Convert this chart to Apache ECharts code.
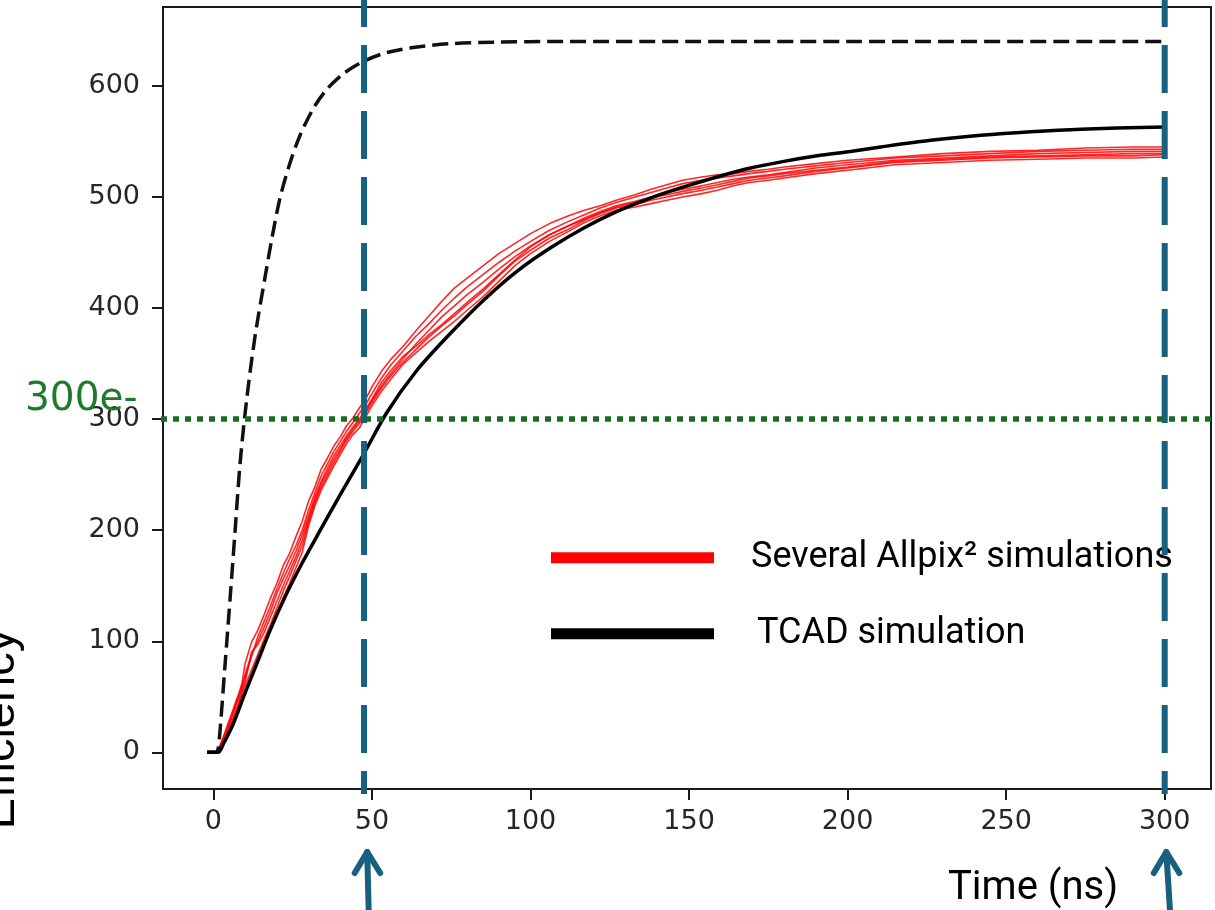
<!DOCTYPE html>
<html>
<head>
<meta charset="utf-8">
<script src="https://cdn.jsdelivr.net/npm/echarts@6/dist/echarts.min.js"></script>
<style>
  html, body { margin: 0; padding: 0; background: #ffffff; }
  #chart { width: 1215px; height: 910px; }
</style>
</head>
<body>
<div id="chart"></div>
<script>
// ---- axis ticks ----
const xTicks = [0, 50, 100, 150, 200, 250, 300];
const yTicks = [0, 100, 200, 300, 400, 500, 600];

// ---- Allpix² runs: collected charge (e-) versus time (ns) ----
const allpixTime = [0,1,2,3,4,5,6,7,8,9,10,12,14,16,18,20,22,24,26,28,30,32,34,36,38,40,42,44,46,48,50,53,56,60,64,68,72,76,80,85,90,95,100,106,112,117,122,127,133,138,143,148,154,159,164,169,175,180,190,200,215,230,245,260,275,290,300];
const allpixRun1 = [0,1,6,13,21,29,37,45,53,62,80,99,110,124,139,152,168,179,194,208,226,239,255,265,276,284,294,301,310,318,329,343,354,366,380,393,406,418,427,438,449,458,467,476,483,488,492,497,502,507,511,515,518,520,521,523,525,527,530,533,536,539,541,542,544,545,545];
const allpixRun2 = [0,0,4,10,17,25,33,41,49,58,68,86,104,118,132,147,161,174,186,200,218,234,249,260,271,280,289,297,305,313,323,337,349,362,375,386,398,409,419,430,441,451,460,470,478,484,490,495,500,504,508,512,515,517,519,521,523,525,528,531,535,537,539,541,542,543,543];
const allpixRun3 = [0,1,5,12,19,27,34,43,51,60,70,88,100,113,127,143,156,168,181,196,213,230,244,256,267,276,285,293,300,309,318,333,344,357,366,376,385,395,405,417,430,443,455,466,474,481,487,492,496,500,504,507,510,513,516,518,520,522,526,529,533,535,537,539,540,541,541];
const allpixRun4 = [0,0,3,8,14,21,28,35,43,52,60,74,88,102,115,130,145,158,172,186,207,225,239,250,261,271,281,289,296,305,315,328,339,352,363,374,384,393,403,415,429,442,452,463,471,479,485,490,493,497,500,503,506,509,512,515,517,519,523,526,531,533,535,536,537,537,538];
const allpixRun5 = [0,0,3,9,15,22,29,37,45,54,63,90,97,108,122,136,150,163,176,191,210,227,242,253,264,273,283,291,298,307,317,330,341,355,368,380,392,402,412,423,435,446,456,466,474,480,486,491,495,499,502,505,508,511,514,517,519,521,524,527,532,534,536,537,538,539,539];
const allpixRun6 = [0,0,2,6,12,18,25,32,40,48,55,68,82,96,110,125,139,152,166,180,204,222,236,247,258,268,278,286,292,302,312,325,336,350,360,370,379,388,398,410,424,438,449,460,469,477,483,488,491,494,497,500,503,506,510,513,515,517,521,524,529,531,533,534,535,535,536];
const allpixRuns = [allpixRun1, allpixRun2, allpixRun3, allpixRun4, allpixRun5, allpixRun6];

// ---- TCAD simulation ----
const tcadTime   = [-2,1.5,3.2,6.3,9.5,13.7,17.9,22.6,27.9,33.7,40,47.3,54.7,64.2,74.7,85.2,95.7,106.2,116.8,127.3,137.8,148.3,158.8,169.4,179.9,190.4,200.9,210.4,226.2,242,257.7,273.5,300];
const tcadCharge = [0,0,8,26,50,80,110,140,170,200,232,268,306,344,377,407,433,454,472,487,499,509,518,526,532,537,541,545,551,555.5,558.7,561,563];

// ---- fast (dashed) curve ----
const fastTime   = [-2,1,1.5,2.1,3.7,5.3,6.85,8.4,10.5,13.2,16.3,18.4,21,24.2,27.4,31.6,35.8,41,47.3,54.7,64.2,74.7,88.4,110,150,200,300];
const fastCharge = [0,0,4,20,80,140,200,260,318,376,428,462,499,531,556,580,597,611,622,630,635,638,639.3,640,640,640,640];

// ---- annotations ----
const markerTimes = [47.5, 300];      // vertical dashed markers
const arrowTimes = [48.5, 300.5];     // arrows under the time axis
const thresholdCharge = 300;          // 300e- threshold
const thresholdLabel = '300e-';
const allpixName = 'Several Allpix\u00B2 simulations';
const tcadName = 'TCAD simulation';
const xName = 'Time (ns)';
const yName = 'Efficiency';

const AXIS_FONT = 'DejaVu Sans';
const NOTE_FONT = 'Roboto';
const MARK_BLUE = '#17607f';

const pairs = (xs, ys) => xs.map((x, i) => [x, ys[i]]);

const chart = echarts.init(document.getElementById('chart'), null, { renderer: 'canvas' });

const series = allpixRuns.map(run => ({
  type: 'line',
  name: allpixName,
  data: pairs(allpixTime, run),
  symbol: 'none',
  showSymbol: false,
  silent: true,
  z: 2,
  lineStyle: { color: '#ff0000', width: 1.6, opacity: 0.85 }
}));
series.push({
  type: 'line',
  name: 'fast collection',
  data: pairs(fastTime, fastCharge),
  symbol: 'none',
  smooth: 0.3,
  silent: true,
  z: 3,
  lineStyle: { color: '#111111', width: 3.5, type: [16, 7] }
});
series.push({
  type: 'line',
  name: tcadName,
  data: pairs(tcadTime, tcadCharge),
  symbol: 'none',
  smooth: 0.3,
  silent: true,
  z: 4,
  lineStyle: { color: '#000000', width: 3.5 }
});

const axisCommon = {
  type: 'value',
  splitLine: { show: false },
  axisLine: { show: false, onZero: false }
};

chart.setOption({
  animation: false,
  backgroundColor: '#ffffff',
  grid: {
    left: 163, top: 7, right: 4, bottom: 121,
    show: true, borderColor: '#1a1a1a', borderWidth: 2,
    backgroundColor: 'transparent',
    outerBoundsMode: 'none'
  },
  xAxis: Object.assign({}, axisCommon, {
    min: -15.9, max: 314.6,
    axisTick: { show: true, inside: false, length: 11, customValues: xTicks,
      lineStyle: { color: '#1a1a1a', width: 2 } },
    axisLabel: { customValues: xTicks, margin: 19, color: '#262626',
      fontFamily: AXIS_FONT, fontSize: 27 }
  }),
  yAxis: Object.assign({}, axisCommon, {
    min: -33, max: 671,
    axisTick: { show: true, inside: false, length: 11, customValues: yTicks,
      lineStyle: { color: '#1a1a1a', width: 2 } },
    axisLabel: { customValues: yTicks, margin: 23, color: '#262626',
      fontFamily: AXIS_FONT, fontSize: 27 }
  }),
  series: series
});

// ---- overlay: markers, threshold, arrows, legend, titles ----
const toPx = (t, v) => chart.convertToPixel({ gridIndex: 0 }, [t, v]);
const graphics = [];

markerTimes.forEach(t => {
  const x = toPx(t, 0)[0];
  graphics.push({
    type: 'line', z: 20, silent: true,
    shape: { x1: x, y1: 0, x2: x, y2: 794 },
    style: { stroke: MARK_BLUE, lineWidth: 6, lineDash: [48, 18], lineDashOffset: 21, lineCap: 'butt' }
  });
});

const yThr = toPx(0, thresholdCharge)[1];
graphics.push({
  type: 'line', z: 21, silent: true,
  shape: { x1: 161, y1: yThr, x2: 1215, y2: yThr },
  style: { stroke: '#1c6b24', lineWidth: 5.5, lineDash: [6, 6], lineCap: 'butt' }
});
graphics.push({
  type: 'text', z: 21, silent: true,
  x: 25, y: 399.5,
  style: { text: thresholdLabel, fontFamily: AXIS_FONT, fontSize: 39, fill: '#1f7a2b',
    textAlign: 'left', textVerticalAlign: 'middle' }
});

arrowTimes.forEach((t, i) => {
  const x = toPx(t, 0)[0];
  const lean = i === 0 ? 1.6 : 4;
  graphics.push({
    type: 'polyline', z: 22, silent: true,
    shape: { points: [[x + lean, 915], [x, 852]] },
    style: { stroke: MARK_BLUE, lineWidth: 6, lineCap: 'round', fill: null }
  });
  graphics.push({
    type: 'polyline', z: 22, silent: true,
    shape: { points: [[x - 12.5, 873], [x, 852], [x + 13, 873]] },
    style: { stroke: MARK_BLUE, lineWidth: 6, lineCap: 'round', lineJoin: 'round', fill: null }
  });
});

// legend swatches and labels
graphics.push({
  type: 'rect', z: 15, silent: true,
  shape: { x: 551, y: 552.2, width: 163, height: 11 },
  style: { fill: '#ff0000' }
});
graphics.push({
  type: 'rect', z: 15, silent: true,
  shape: { x: 551, y: 628.2, width: 163, height: 11 },
  style: { fill: '#000000' }
});
graphics.push({
  type: 'text', z: 15, silent: true, x: 751, y: 558,
  style: { text: allpixName, fontFamily: NOTE_FONT, fontSize: 36, fill: '#000000',
    textAlign: 'left', textVerticalAlign: 'middle' }
});
graphics.push({
  type: 'text', z: 15, silent: true, x: 757, y: 634,
  style: { text: tcadName, fontFamily: NOTE_FONT, fontSize: 36, fill: '#000000',
    textAlign: 'left', textVerticalAlign: 'middle' }
});

// axis titles
graphics.push({
  type: 'text', z: 15, silent: true, x: 948, y: 889,
  style: { text: xName, fontFamily: NOTE_FONT, fontSize: 40, fill: '#000000',
    textAlign: 'left', textVerticalAlign: 'middle' }
});
graphics.push({
  type: 'text', z: 15, silent: true, x: 1, y: 729, rotation: Math.PI / 2,
  style: { text: yName, fontFamily: 'Liberation Sans', fontSize: 47, fill: '#000000',
    textAlign: 'center', textVerticalAlign: 'middle' }
});

chart.setOption({ graphic: graphics });
</script>
</body>
</html>
